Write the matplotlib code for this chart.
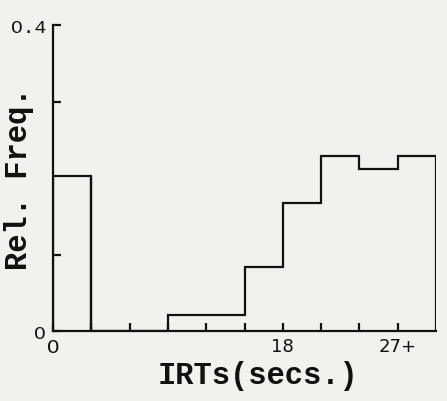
import numpy as np
import matplotlib.pyplot as plt

# IRT histogram, 3-sec bins, last bin is 27+
bin_edges = [0, 3, 6, 9, 12, 15, 18, 21, 24, 27, 30]
rel_freq = [0.203, 0.0, 0.0, 0.021, 0.021, 0.084, 0.167, 0.229, 0.212, 0.229]
x_tick_pos = [0, 18, 27]
x_tick_labels = ['O', '18', '27+']
y_tick_pos = [0, 0.1, 0.3, 0.4]
y_tick_labels = ['O', '', '', 'O.4']

ink = '#111111'
paper = '#f1f1ef'

fig = plt.figure(figsize=(4.47, 4.02), dpi=100, facecolor=paper)
ax = fig.add_axes([0.1186, 0.1741, 0.8568, 0.7612])
ax.set_facecolor(paper)

ax.stairs(rel_freq, bin_edges, baseline=0, color=ink, linewidth=1.6)
# bin 0 closes down to the axis on its own
ax.vlines(bin_edges[1], 0, rel_freq[0], color=ink, linewidth=1.6)

ax.set_xlim(0, 30)
ax.set_ylim(0, 0.4)
for s in ['top', 'right']:
    ax.spines[s].set_visible(False)
for s in ['left', 'bottom']:
    ax.spines[s].set_linewidth(1.6)
    ax.spines[s].set_color(ink)
    ax.spines[s].set_clip_on(False)

ax.set_xticks(bin_edges[1:-1], minor=True)
ax.set_xticks(x_tick_pos)
ax.set_xticklabels(x_tick_labels, fontsize=13, color=ink)
ax.set_yticks(y_tick_pos)
ax.set_yticklabels(y_tick_labels, fontsize=14, color=ink, family='Liberation Mono')
ax.tick_params(axis='both', which='both', direction='in', length=6, width=1.6, color=ink)
ax.tick_params(axis='x', which='major', pad=4)
ax.tick_params(axis='y', pad=5)
ax.get_xticklabels()[0].set_family('Liberation Mono')
ax.get_xticklabels()[0].set_fontsize(15)

ax.set_xlabel('IRTs(secs.)', fontsize=22, family='Liberation Mono', fontweight='bold',
              color=ink)
ax.xaxis.set_label_coords(0.535, -0.095)
ax.xaxis.label.set_va('top')
ax.set_ylabel('Rel. Freq.', fontsize=22, family='Liberation Mono', fontweight='bold',
              color=ink)
ax.yaxis.set_label_coords(-0.05, 0.5)
ax.yaxis.label.set_va('bottom')

fig.savefig('out.png', dpi=100, facecolor=paper)
